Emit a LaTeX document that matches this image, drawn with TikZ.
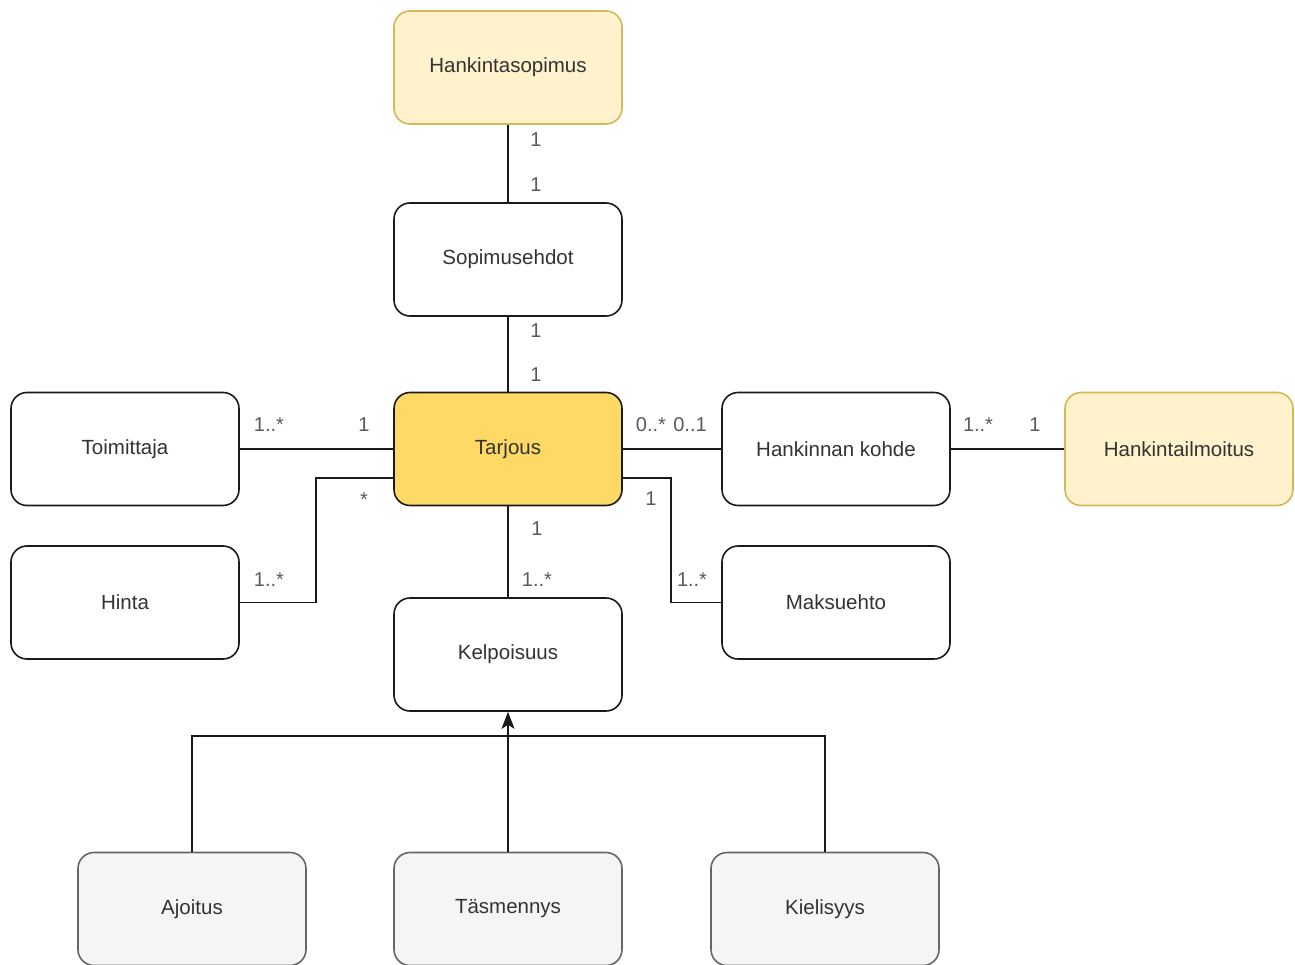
\documentclass[tikz,border=0pt]{standalone}
\usepackage{fontspec}
\setmainfont{Liberation Sans}
\usetikzlibrary{arrows.meta}
\definecolor{lineclr}{HTML}{1A1A1A}
\definecolor{txtclr}{HTML}{333333}
\definecolor{lblclr}{HTML}{5A5A5A}
\definecolor{paleyel}{HTML}{FFF2CC}
\definecolor{paleyeldraw}{HTML}{D6B656}
\definecolor{goldfill}{HTML}{FFD966}
\definecolor{greyfill}{HTML}{F5F5F5}
\definecolor{greydraw}{HTML}{666666}
\tikzset{
  entity/.style={draw=lineclr, fill=white, line width=1.6pt, rounded corners=16pt,
    minimum width=228pt, minimum height=113pt, inner sep=0pt,
    font=\fontsize{20.5}{24}\selectfont, text=txtclr},
  pale/.style={entity, draw=paleyeldraw, fill=paleyel},
  gold/.style={entity, fill=goldfill},
  greybox/.style={entity, draw=greydraw, fill=greyfill},
  mult/.style={font=\fontsize{20}{24}\selectfont, text=lblclr, inner sep=0pt},
  link/.style={draw=lineclr, line width=1.6pt},
}
\begin{document}
\begin{tikzpicture}[x=1pt, y=-1pt]
\useasboundingbox (0,0) rectangle (1295,965);
% entities
\node[pale]    (hs) at (508,67.5)  {Hankintasopimus};
\node[entity]  (se) at (508,259.5) {Sopimusehdot};
\node[gold]    (ta) at (508,449)   {Tarjous};
\node[entity]  (to) at (125,449)   {Toimittaja};
\node[entity]  (hi) at (125,602.5) {Hinta};
\node[entity]  (ke) at (508,654.5) {Kelpoisuus};
\node[entity]  (hk) at (836,449)   {Hankinnan kohde};
\node[pale]    (hm) at (1179,449)  {Hankintailmoitus};
\node[entity]  (ma) at (836,602.5) {Maksuehto};
\node[greybox] (aj) at (192,909)   {Ajoitus};
\node[greybox] (ts) at (508,909)   {Täsmennys};
\node[greybox] (ki) at (825,909)   {Kielisyys};
% associations
\draw[link] (hs.south) -- (se.north);
\draw[link] (se.south) -- (ta.north);
\draw[link] (to.east) -- (ta.west);
\draw[link] (hi.east) -- (316,602.5) |- ([yshift=-29pt]ta.west);
\draw[link] (ta.south) -- (ke.north);
\draw[link] (ta.east) -- (hk.west);
\draw[link] (hk.east) -- (hm.west);
\draw[link] ([yshift=-29pt]ta.east) -- (671,478) |- (ma.west);
% generalization
\coordinate (jn) at (508,736);
\draw[link] (aj.north) |- (jn);
\draw[link] (ki.north) |- (jn);
\draw[link, -{Stealth[length=17pt, width=13pt, inset=4pt]}, fill=black] (ts.north) -- (ke.south);
% multiplicities
\node[mult] (m1)  at (536,140) {1};
\node[mult] (m2)  at (536,185) {1};
\node[mult] (m3)  at (536,331) {1};
\node[mult] (m4)  at (536,375) {1};
\node[mult] (m5)  at (269,425) {1..*};
\node[mult] (m6)  at (364,425) {1};
\node[mult] (m7)  at (269,580) {1..*};
\node[mult] (m8)  at (364,500) {*};
\node[mult] (m9)  at (537,529) {1};
\node[mult] (m10) at (537,580) {1..*};
\node[mult] (m11) at (651,425) {0..*};
\node[mult] (m12) at (690,425) {0..1};
\node[mult] (m13) at (651,499) {1};
\node[mult] (m14) at (692,580) {1..*};
\node[mult] (m15) at (978,425) {1..*};
\node[mult] (m16) at (1035,425) {1};
\end{tikzpicture}
\end{document}
